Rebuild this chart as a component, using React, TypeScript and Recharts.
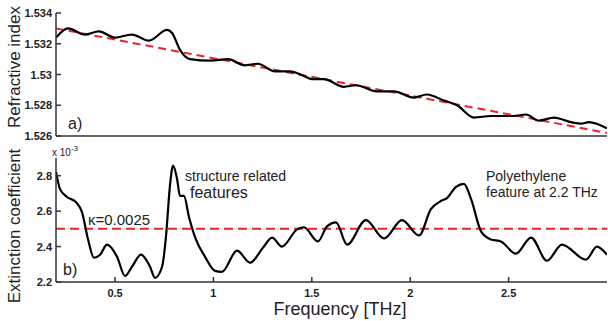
import { Line, LineChart, XAxis, YAxis } from 'recharts';

// top panel: refractive index vs frequency
const freqN = [0.2, 0.261, 0.347, 0.418, 0.5, 0.586, 0.673, 0.764, 0.79, 0.83, 0.881, 0.983, 1.074, 1.16, 1.226, 1.313, 1.389, 1.46, 1.5, 1.562, 1.663, 1.724, 1.831, 1.917, 2.019, 2.085, 2.172, 2.238, 2.324, 2.41, 2.527, 2.588, 2.654, 2.73, 2.817, 2.868, 2.908, 3.0];
const nValues = [1.5324, 1.533, 1.5326, 1.5328, 1.5324, 1.5326, 1.5322, 1.5329, 1.5327, 1.5316, 1.531, 1.5309, 1.531, 1.5306, 1.5307, 1.5302, 1.5302, 1.5299, 1.5297, 1.5297, 1.5292, 1.5293, 1.5289, 1.5289, 1.5285, 1.5287, 1.5283, 1.528, 1.5272, 1.5273, 1.5273, 1.5274, 1.527, 1.5272, 1.5269, 1.5268, 1.5269, 1.5265];
const nFitFreq = [0.2, 3.0];
const nFitValues = [1.533, 1.5262];

// bottom panel: extinction coefficient (x 10^-3)
const freqK = [0.2, 0.22, 0.256, 0.302, 0.332, 0.363, 0.393, 0.424, 0.459, 0.51, 0.551, 0.586, 0.632, 0.678, 0.703, 0.739, 0.759, 0.779, 0.795, 0.815, 0.83, 0.85, 0.876, 0.911, 0.957, 1.008, 1.043, 1.12, 1.186, 1.252, 1.298, 1.348, 1.425, 1.46, 1.531, 1.577, 1.623, 1.679, 1.775, 1.867, 1.958, 2.045, 2.105, 2.156, 2.187, 2.233, 2.273, 2.309, 2.36, 2.41, 2.461, 2.537, 2.614, 2.695, 2.771, 2.893, 2.949, 3.0];
const kValues = [2.823, 2.726, 2.68, 2.651, 2.594, 2.44, 2.337, 2.354, 2.411, 2.343, 2.234, 2.286, 2.354, 2.286, 2.223, 2.286, 2.457, 2.743, 2.857, 2.783, 2.686, 2.686, 2.566, 2.44, 2.343, 2.263, 2.257, 2.377, 2.309, 2.394, 2.451, 2.4, 2.497, 2.509, 2.429, 2.514, 2.537, 2.411, 2.549, 2.446, 2.549, 2.463, 2.611, 2.657, 2.674, 2.737, 2.754, 2.669, 2.486, 2.44, 2.429, 2.36, 2.451, 2.32, 2.411, 2.326, 2.4, 2.354];
const kFitFreq = [0.2, 3.0];
const kFitValues = [2.5, 2.5];

const freqTicks = [0.5, 1, 1.5, 2, 2.5];
const nTicks = [1.526, 1.528, 1.53, 1.532, 1.534];
const kTicks = [2.2, 2.4, 2.6, 2.8];

const nData = freqN.map((f, i) => ({ f, n: nValues[i] }));
const nFit = nFitFreq.map((f, i) => ({ f, n: nFitValues[i] }));
const kData = freqK.map((f, i) => ({ f, k: kValues[i] }));
const kFit = kFitFreq.map((f, i) => ({ f, k: kFitValues[i] }));

const FONT = 'Liberation Sans, Arial, sans-serif';
const AXIS = '#333';
const RED = '#e8262a';

const tickStyle = { fontSize: 11, fontWeight: 700, fill: '#222', fontFamily: FONT };

function YTick(props: any) {
  const { y, payload } = props;
  return (
    <text x={52} y={y} dy={4} textAnchor="end" {...tickStyle}>
      {String(payload.value)}
    </text>
  );
}

function XTick(props: any) {
  const { x, payload } = props;
  return (
    <text x={x} y={152} textAnchor="middle" {...tickStyle}>
      {String(payload.value)}
    </text>
  );
}

const axisCommon = {
  stroke: AXIS,
  strokeWidth: 1.5,
  tickSize: -5,
  allowDataOverflow: true,
};

export default function App() {
  return (
    <div style={{ position: 'absolute', left: 0, top: 0, width: 608, height: 321, background: '#fff' }}>
      <div style={{ position: 'absolute', left: 0, top: 0 }}>
        <LineChart width={608} height={150} data={nData} margin={{ top: 13, right: 1, bottom: 0, left: 0 }}>
          <XAxis dataKey="f" type="number" domain={[0.2, 3]} ticks={freqTicks} height={14} tick={false} {...axisCommon} />
          <XAxis xAxisId="t" orientation="top" type="number" domain={[0.2, 3]} ticks={freqTicks} height={0} tick={false} {...axisCommon} />
          <YAxis type="number" domain={[1.526, 1.534]} ticks={nTicks} width={56} tick={<YTick />} {...axisCommon} />
          <YAxis yAxisId="r" orientation="right" type="number" domain={[1.526, 1.534]} ticks={nTicks} width={0} tick={false} {...axisCommon} />
          <Line data={nFit} dataKey="n" stroke={RED} strokeWidth={2} strokeDasharray="8 5" dot={false} isAnimationActive={false} />
          <Line data={nData} dataKey="n" type="monotone" stroke="#000" strokeWidth={2.2} dot={false} isAnimationActive={false} />
        </LineChart>
      </div>
      <div style={{ position: 'absolute', left: 0, top: 145 }}>
        <LineChart width={608} height={176} data={kData} margin={{ top: 13, right: 1, bottom: 0, left: 0 }}>
          <XAxis dataKey="f" type="number" domain={[0.2, 3]} ticks={freqTicks} height={39} tick={<XTick />} {...axisCommon} />
          <XAxis xAxisId="t" orientation="top" type="number" domain={[0.2, 3]} ticks={freqTicks} height={0} tick={false} {...axisCommon} />
          <YAxis type="number" domain={[2.2, 2.9]} ticks={kTicks} width={56} tick={<YTick />} {...axisCommon} />
          <YAxis yAxisId="r" orientation="right" type="number" domain={[2.2, 2.9]} ticks={kTicks} width={0} tick={false} {...axisCommon} />
          <Line data={kFit} dataKey="k" stroke={RED} strokeWidth={2} strokeDasharray="9 5" dot={false} isAnimationActive={false} />
          <Line data={kData} dataKey="k" type="monotone" stroke="#000" strokeWidth={2.2} dot={false} isAnimationActive={false} />
        </LineChart>
      </div>
      <svg width={608} height={321} style={{ position: 'absolute', left: 0, top: 0, pointerEvents: 'none' }} fontFamily={FONT}>
        <text transform="translate(20,67) rotate(-90)" textAnchor="middle" fontSize={17} fill="#222">Refractive index</text>
        <text transform="translate(20,226) rotate(-90)" textAnchor="middle" fontSize={17} fill="#222">Extinction coefficient</text>
        <text x={68} y={129} fontSize={16} fill="#222">a)</text>
        <text x={63} y={275} fontSize={16} fill="#222">b)</text>
        <text x={52} y={156} fontSize={10} fill="#222">
          x 10<tspan dy={-5} fontSize={8}>-3</tspan>
        </text>
        <text x={88} y={225} fontSize={15} fill="#222">κ=0.0025</text>
        <text x={185} y={181} fontSize={14} fill="#222">structure related</text>
        <text x={190} y={198} fontSize={16} fill="#222">features</text>
        <text x={486} y={181} fontSize={14} fill="#222">Polyethylene</text>
        <text x={486} y={197} fontSize={14} fill="#222">feature at 2.2 THz</text>
        <text x={340} y={315} textAnchor="middle" fontSize={18} fill="#222">Frequency [THz]</text>
      </svg>
    </div>
  );
}
